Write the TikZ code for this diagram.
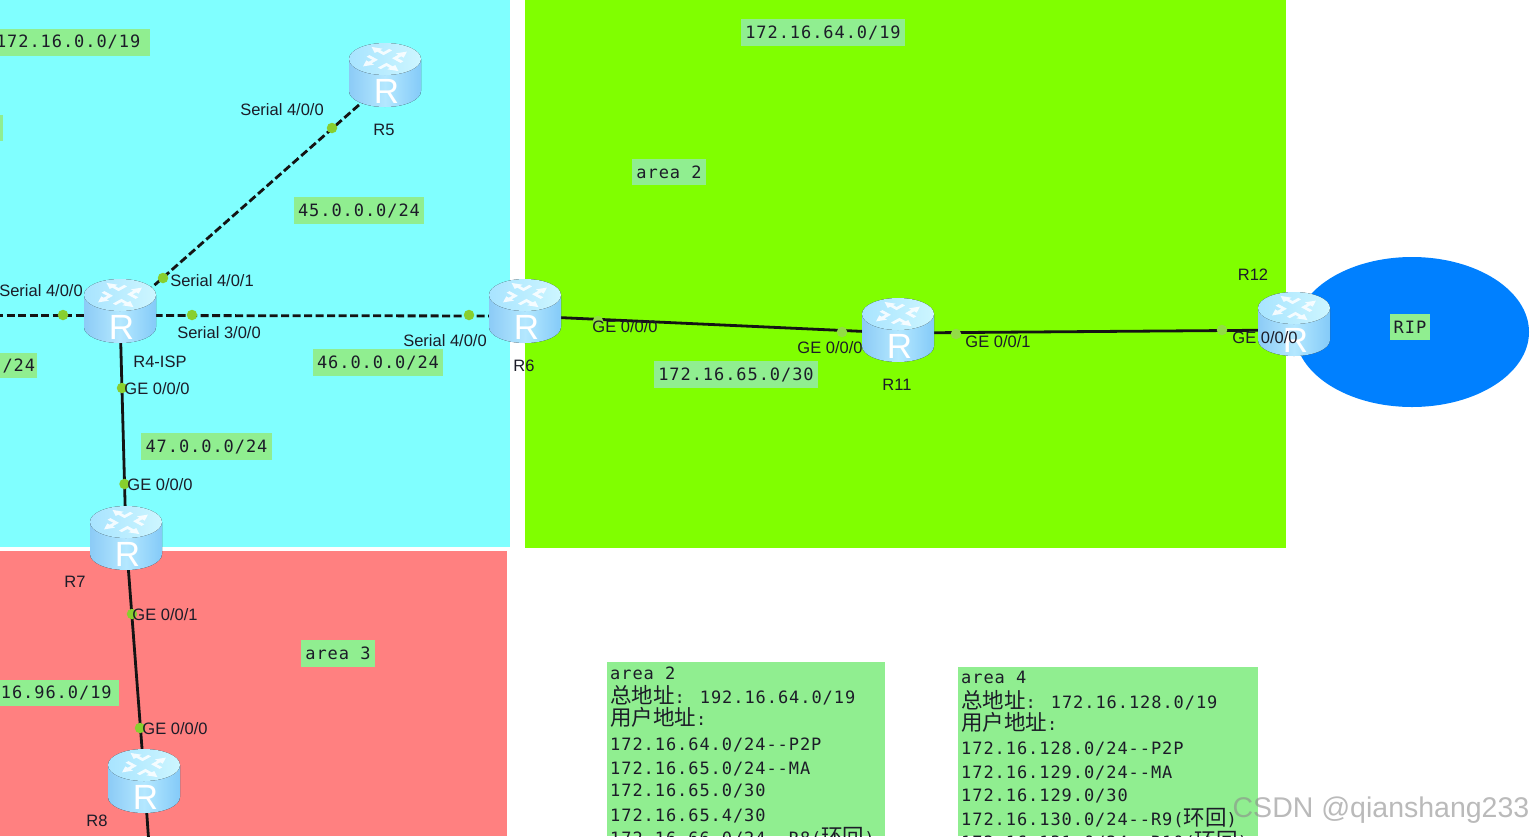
\documentclass[tikz,border=0pt]{standalone}
\usepackage{fontspec}
\setmainfont{Liberation Sans}
\newfontfamily\monof[LetterSpace=5.5]{DejaVu Sans Mono}
\newfontfamily\cjkf{Noto Sans CJK SC}
\definecolor{zonecyan}{HTML}{80FFFF}
\definecolor{zonegreen}{HTML}{80FF00}
\definecolor{zonered}{HTML}{FF8080}
\definecolor{ripblue}{HTML}{0080FF}
\definecolor{boxgreen}{HTML}{90EE90}
\definecolor{dotgreen}{HTML}{88CF2E}
\definecolor{dotpale}{HTML}{92DC46}
\definecolor{inktext}{HTML}{1C1C28}
\definecolor{rbodya}{HTML}{8CCBF6}
\definecolor{rbodyb}{HTML}{B4E8FF}
\definecolor{rbodyc}{HTML}{84CAF8}
\definecolor{rtopa}{HTML}{A8E4FF}
\definecolor{rtopb}{HTML}{CDF6FF}
\tikzset{
  x=1pt,y=-1pt,
  zone/.style={draw=none},
  conn/.style={line width=2.8pt,black!92},
  dashconn/.style={conn,dash pattern=on 8pt off 3.5pt},
  lnode/.style={circle,fill=#1,inner sep=0pt,minimum size=10.5pt},
  lnode/.default=dotgreen,
  hub/.style={inner sep=0pt,minimum size=1pt},
  lab/.style={inner sep=0pt,text=inktext,font=\fontsize{16.5}{18}\selectfont},
  tagbox/.style={fill=boxgreen,inner sep=0pt,text=inktext,font=\monof\fontsize{17}{18}\selectfont},
  row/.style={anchor=base west,inner sep=0pt,text=inktext,font=\monof\fontsize{17}{18}\selectfont},
  rletter/.style={inner sep=0pt,text=white,font=\fontsize{35}{35}\selectfont},
}
\newcommand{\rtr}[3]{%
  \begin{scope}[shift={(#1,#2)}]
    \fill[left color=rbodya,right color=rbodyc,middle color=rbodyb]
      (-36,-16) -- (-36,16) arc[start angle=180,end angle=0,x radius=36,y radius=16] -- (36,-16) -- cycle;
    \fill[left color=rtopa,right color=rtopb] (0,-16) ellipse[x radius=36,y radius=16];
    \begin{scope}[shift={(0,-16)},cm={1,0,0,0.55,(0,0)}]
      \foreach \a in {45,135,225,315}{
        \begin{scope}[rotate=\a]
          \fill[white,opacity=.85] (6,4) -- (15,4) -- (15,0.5) -- (25,6) -- (15,11.5) -- (15,8) -- (10,8) -- (10,16) -- (6,16) -- cycle;
        \end{scope}
      }
    \end{scope}
    \node[rletter] (#3) at (1.5,16) {R};
  \end{scope}}
\begin{document}
\begin{tikzpicture}
\useasboundingbox (0,0) rectangle (1534,836);
\clip (0,0) rectangle (1534,836);
% zones
\fill[zone,zonecyan] (0,0) rectangle (510,547);
\fill[zone,zonegreen] (525,0) rectangle (1286,548);
\fill[zone,zonered] (0,551) rectangle (507,836);
\fill[zone,ripblue] (1412,332) ellipse[x radius=117,y radius=75];
\fill[zone,boxgreen] (607,662) rectangle (885,836);
\fill[zone,boxgreen] (958,667) rectangle (1258,836);
% hubs
\node[hub] (R5) at (385,82) {};
\node[hub] (R4) at (120,315.5) {};
\node[hub] (R6) at (525,316) {};
\node[hub] (R11) at (898,333) {};
\node[hub] (R12) at (1294,330) {};
\node[hub] (R7) at (126,538) {};
\node[hub] (R8) at (144.5,781) {};
\coordinate (leftend) at (-5,315.5);
\coordinate (downend) at (149,845);
% connectors
\draw[dashconn] (R4.center) -- (R5.center);
\draw[dashconn] (leftend) -- (R4.center);
\draw[dashconn] (R4.center) -- (R6.center);
\draw[conn] (R4.center) -- (R7.center);
\draw[conn] (R7.center) -- (R8.center);
\draw[conn] (R8.center) -- (downend);
\draw[conn] (R6.center) -- (R11.center);
\draw[conn] (R11.center) -- (R12.center);
% link dots
\node[lnode] (d1) at (332,128) {};
\node[lnode] (d2) at (163,278) {};
\node[lnode] (d3) at (63,315) {};
\node[lnode] (d4) at (192,315) {};
\node[lnode] (d5) at (469,315) {};
\node[lnode] (d6) at (122,388) {};
\node[lnode] (d7) at (124.5,484) {};
\node[lnode] (d8) at (132,614) {};
\node[lnode] (d9) at (140,728) {};
\node[lnode=dotpale] (d10) at (598,321) {};
\node[lnode=dotpale] (d11) at (842,332) {};
\node[lnode=dotpale] (d12) at (956,334) {};
\node[lnode=dotpale] (d13) at (1222,330) {};
% routers
\rtr{385}{75}{rR5}
\rtr{120}{311}{rR4}
\rtr{525}{311}{rR6}
\rtr{898}{330}{rR11}
\rtr{1294}{324}{rR12}
\rtr{126}{538}{rR7}
\rtr{144}{781}{rR8}
% interface and router labels
\node[lab] (l1) at (282,110) {Serial 4/0/0};
\node[lab] (l2) at (212,281) {Serial 4/0/1};
\node[lab] (l3) at (41,291) {Serial 4/0/0};
\node[lab] (l4) at (219,333) {Serial 3/0/0};
\node[lab] (l5) at (445,341) {Serial 4/0/0};
\node[lab] (l6) at (160,362) {R4-ISP};
\node[lab] (l7) at (157,389) {GE 0/0/0};
\node[lab] (l8) at (160,485) {GE 0/0/0};
\node[lab] (l9) at (75,582) {R7};
\node[lab] (l10) at (165,615) {GE 0/0/1};
\node[lab] (l11) at (175,729) {GE 0/0/0};
\node[lab] (l12) at (97,821) {R8};
\node[lab] (l13) at (384,130) {R5};
\node[lab] (l14) at (524,366) {R6};
\node[lab] (l15) at (625,327) {GE 0/0/0};
\node[lab] (l16) at (830,348) {GE 0/0/0};
\node[lab] (l17) at (998,342) {GE 0/0/1};
\node[lab] (l18) at (897,385) {R11};
\node[lab] (l19) at (1253,275) {R12};
\node[lab] (l20) at (1265,338) {GE 0/0/0};
% address tags
\node[tagbox,minimum width=164pt,minimum height=27pt,anchor=west] (t1) at (-14,42) {172.16.0.0/19};
\node[tagbox,minimum width=13pt,minimum height=26pt] (t2) at (-3.5,128) {};
\node[tagbox,minimum width=164pt,minimum height=27pt] (t3) at (823,32.5) {172.16.64.0/19};
\node[tagbox,minimum width=74pt,minimum height=26pt] (t4) at (669,172) {area 2};
\node[tagbox,minimum width=130pt,minimum height=27pt] (t5) at (359,210.5) {45.0.0.0/24};
\node[tagbox,minimum width=50pt,minimum height=25pt,anchor=east,align=right] (t6) at (37,365.5) {\hspace*{14pt}/24};
\node[tagbox,minimum width=130pt,minimum height=27pt] (t7) at (378,362.5) {46.0.0.0/24};
\node[tagbox,minimum width=131pt,minimum height=27pt] (t8) at (206.5,446.5) {47.0.0.0/24};
\node[tagbox,minimum width=164pt,minimum height=27pt] (t9) at (736,374.5) {172.16.65.0/30};
\node[tagbox,minimum width=40pt,minimum height=26pt] (t10) at (1410,327) {RIP};
\node[tagbox,minimum width=74pt,minimum height=27pt] (t11) at (338,653.5) {area 3};
\node[tagbox,minimum width=125pt,minimum height=26pt,anchor=east] (t12) at (119,693) {16.96.0/19};
% address list, area 2
\node[row] (a1) at (610,679) {area 2};
\node[row] (a2) at (610,703) {{\cjkf\fontsize{21.5}{22}\selectfont 总地址}: 192.16.64.0/19};
\node[row] (a3) at (610,725) {{\cjkf\fontsize{21.5}{22}\selectfont 用户地址}:};
\node[row] (a4) at (610,750) {172.16.64.0/24--P2P};
\node[row] (a5) at (610,774) {172.16.65.0/24--MA};
\node[row] (a6) at (610,796.5) {172.16.65.0/30};
\node[row] (a7) at (610,821) {172.16.65.4/30};
\node[row] (a8) at (610,844.5) {172.16.66.0/24--R8({\cjkf\fontsize{21.5}{22}\selectfont 环回})};
% address list, area 4
\node[row] (b1) at (961,683) {area 4};
\node[row] (b2) at (961,708) {{\cjkf\fontsize{21.5}{22}\selectfont 总地址}: 172.16.128.0/19};
\node[row] (b3) at (961,730) {{\cjkf\fontsize{21.5}{22}\selectfont 用户地址}:};
\node[row] (b4) at (961,754) {172.16.128.0/24--P2P};
\node[row] (b5) at (961,778) {172.16.129.0/24--MA};
\node[row] (b6) at (961,801) {172.16.129.0/30};
\node[row] (b7) at (961,825) {172.16.130.0/24--R9({\cjkf\fontsize{21.5}{22}\selectfont 环回})};
\node[row] (b8) at (961,848.5) {172.16.131.0/24--R10({\cjkf\fontsize{21.5}{22}\selectfont 环回})};
% watermark
\node[inner sep=0pt,text=black!45,opacity=.6,font=\fontsize{28.5}{30}\selectfont] (wm) at (1381,810) {CSDN @qianshang233};
\end{tikzpicture}
\end{document}
